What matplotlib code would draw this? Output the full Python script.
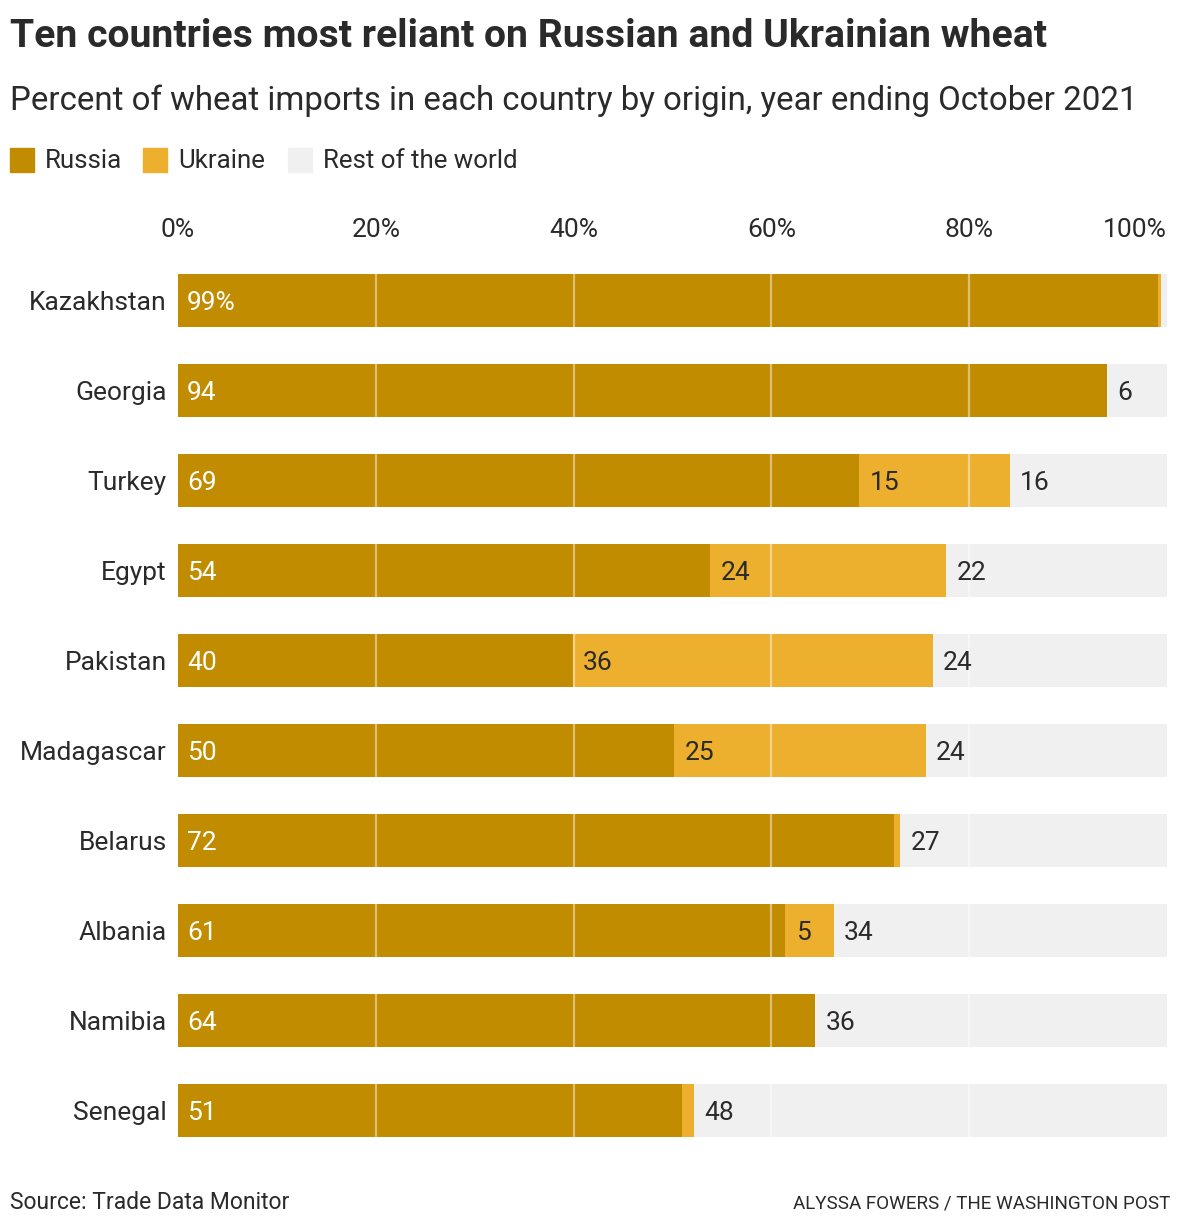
import matplotlib
matplotlib.use('Agg')
import matplotlib.pyplot as plt
from matplotlib.patches import Rectangle

# ---- data ----
countries = ['Kazakhstan', 'Georgia', 'Turkey', 'Egypt', 'Pakistan',
             'Madagascar', 'Belarus', 'Albania', 'Namibia', 'Senegal']
russia = [99.1, 93.9, 68.9, 53.8, 39.9, 50.2, 72.4, 61.4, 64.4, 51.0]
ukraine = [0.3, 0.0, 15.2, 23.9, 36.4, 25.4, 0.6, 4.9, 0.0, 1.2]
rest = [0.6, 6.1, 15.9, 22.3, 23.7, 24.4, 27.0, 33.7, 35.6, 47.8]
series_names = ['Russia', 'Ukraine', 'Rest of the world']
xticks = [0, 20, 40, 60, 80, 100]
xtick_labels = ['0%', '20%', '40%', '60%', '80%', '100%']

C_RU = '#C18C00'
C_UA = '#ECAF2E'
C_REST = '#F0F0F0'
TXT = '#2a2a2a'
FONT = ['Roboto', 'DejaVu Sans']
plt.rcParams['font.family'] = FONT

W, H = 1180, 1228
fig = plt.figure(figsize=(W / 100, H / 100), dpi=100)
fig.patch.set_facecolor('white')

def fy(px):
    return 1 - px / H

def fx(px):
    return px / W

ax_left, ax_right = 178, 1167
ax_top, ax_bot = 255.5, 1155.5
ax = fig.add_axes([fx(ax_left), fy(ax_bot), (ax_right - ax_left) / W, (ax_bot - ax_top) / H])

y = list(range(len(countries)))
h = 0.59
left_ua = [r for r in russia]
left_rest = [r + u for r, u in zip(russia, ukraine)]
ax.barh(y, russia, height=h, color=C_RU, zorder=2)
ax.barh(y, ukraine, left=left_ua, height=h, color=C_UA, zorder=2)
ax.barh(y, rest, left=left_rest, height=h, color=C_REST, zorder=2)

for gx in [20, 40, 60, 80]:
    ax.axvline(gx, color='white', alpha=0.45, lw=1.6, zorder=3)

NUM = 19
ax.set_xlim(0, 100)
ax.set_ylim(len(countries) - 0.5, -0.5)
ax.xaxis.tick_top()
ax.set_xticks(xticks)
ax.set_xticklabels(xtick_labels)
ax.set_yticks(y)
ax.set_yticklabels(countries)
ax.tick_params(axis='x', length=0, pad=9.5, labelsize=NUM, labelcolor=TXT)
ax.tick_params(axis='y', length=0, pad=8, labelsize=19, labelcolor=TXT)
ax.get_xticklabels()[-1].set_horizontalalignment('right')
for lbl in ax.get_yticklabels():
    lbl.set_verticalalignment('center_baseline')
for s in ax.spines.values():
    s.set_visible(False)

off = 7.5  # points
dy = -1.6
for i in range(len(countries)):
    lab = f'{round(russia[i])}%' if i == 0 else f'{round(russia[i])}'
    ax.annotate(lab, (0, i), xytext=(off - 1, dy), textcoords='offset points',
                va='center', ha='left', color='white', fontsize=NUM, zorder=4)
    if ukraine[i] >= 3:
        ax.annotate(f'{round(ukraine[i])}', (russia[i], i), xytext=(off, dy),
                    textcoords='offset points', va='center', ha='left',
                    color=TXT, fontsize=NUM, zorder=4)
    if rest[i] >= 3:
        ax.annotate(f'{round(rest[i])}', (russia[i] + ukraine[i], i), xytext=(off, dy),
                    textcoords='offset points', va='center', ha='left',
                    color=TXT, fontsize=NUM, zorder=4)

# ---- titles ----
fig.text(fx(10), fy(47), 'Ten countries most reliant on Russian and Ukrainian wheat',
         fontsize=28.2, fontweight='bold', color=TXT, va='baseline', ha='left')
fig.text(fx(10), fy(110), 'Percent of wheat imports in each country by origin, year ending October 2021',
         fontsize=23.8, color=TXT, va='baseline', ha='left')

# ---- legend ----
leg_x = [10, 143, 288]
cols = [C_RU, C_UA, C_REST]
for lx, c, name in zip(leg_x, cols, series_names):
    fig.patches.append(Rectangle((fx(lx), fy(172)), 24 / W, 24 / H,
                                 transform=fig.transFigure, color=c, figure=fig))
    fig.text(fx(lx + 35), fy(168), name, fontsize=18.6, color=TXT, va='baseline', ha='left')

# ---- footer ----
fig.text(fx(10), fy(1209), 'Source: Trade Data Monitor', fontsize=16.5, color=TXT,
         va='baseline', ha='left')
fig.text(fx(1170), fy(1208), 'ALYSSA FOWERS / THE WASHINGTON POST', fontsize=13.6,
         color=TXT, va='baseline', ha='right')

fig.savefig('out.png', dpi=100, facecolor='white')
